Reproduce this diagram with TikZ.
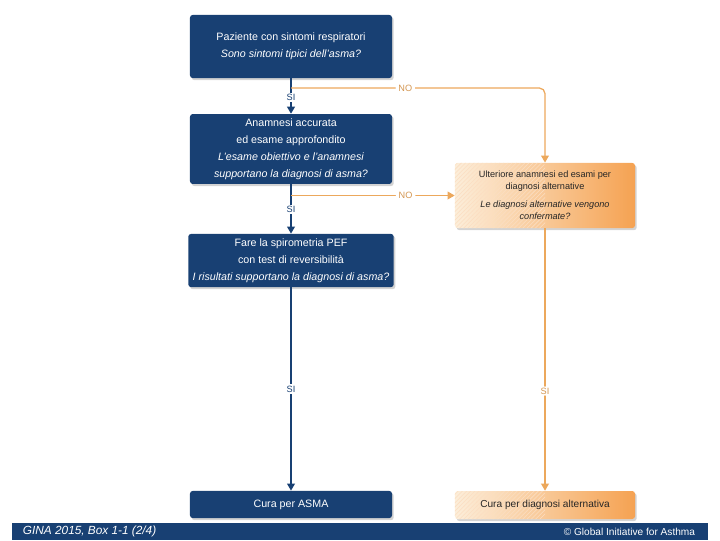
\documentclass[tikz,border=0pt]{standalone}
\usepackage{fontspec}
\setmainfont{Liberation Sans}
\usetikzlibrary{arrows.meta, positioning, shadows, patterns}
\definecolor{ginablue}{RGB}{24,64,115}
\definecolor{ginaorange}{RGB}{236,168,92}
\definecolor{lightorange}{RGB}{252,238,218}
\definecolor{deeporange}{RGB}{245,162,82}

\begin{document}
\begin{tikzpicture}[x=0.025cm, y=-0.025cm,
  qbox/.style={rectangle, rounded corners=2pt, fill=ginablue, text=white,
               minimum width=5.05cm, align=center,
               font=\fontsize{7.6}{12}\selectfont,
               drop shadow={shadow xshift=1.2pt, shadow yshift=-1.5pt, opacity=0.35}},
  abox/.style={rectangle, rounded corners=2pt,
               left color=lightorange, right color=deeporange,
               minimum width=4.5cm, align=center, text=black!85,
               font=\fontsize{6.5}{8.6}\selectfont,
               drop shadow={shadow xshift=1.2pt, shadow yshift=-1.5pt, opacity=0.35},
               path picture={\fill[pattern=north east lines, pattern color=deeporange!35]
                 (path picture bounding box.south west) rectangle (path picture bounding box.north);}},
  blarr/.style={draw=ginablue, line width=1.1pt, -{Triangle[width=5.5pt,length=5pt]}},
  orarr/.style={draw=ginaorange, line width=0.9pt, rounded corners=4pt,
                -{Triangle[width=5.5pt,length=5pt]}},
  bllab/.style={fill=white, text=ginablue, inner sep=1pt, font=\fontsize{6.5}{7}\selectfont},
  orlab/.style={fill=white, text=ginaorange!90!black, inner sep=2pt, font=\fontsize{6.5}{7}\selectfont},
  footbar/.style={rectangle, fill=ginablue, inner sep=0pt,
                  minimum width=17.4cm, minimum height=0.44cm}
]
  \useasboundingbox (0,0) rectangle (720,540);

  \node[qbox, minimum height=1.58cm] (q1) at (291,46.5)
    {Paziente con sintomi respiratori\\ \itshape Sono sintomi tipici dell'asma?};
  \node[qbox, minimum height=1.6cm] (q2) at (291,149)
    {Anamnesi accurata\\ ed esame approfondito\\
     \itshape L'esame obiettivo e l'anamnesi\\ \itshape supportano la diagnosi di asma?};
  \node[qbox, minimum height=1.33cm] (q3) at (291,260.5)
    {Fare la spirometria PEF\\ con test di reversibilità\\
     \makebox[4.9cm]{\itshape I risultati supportano la diagnosi di asma?}};
  \node[abox, minimum height=1.63cm] (alt) at (545,195.5)
    {Ulteriore anamnesi ed esami per\\ diagnosi alternative\\[4pt]
     \itshape Le diagnosi alternative vengono\\ \itshape confermate?};
  \node[qbox, minimum height=0.68cm] (cura) at (291,504.5) {Cura per ASMA};
  \node[abox, minimum height=0.7cm, font=\fontsize{7.2}{8.6}\selectfont] (curaalt)
    at (545,505) {Cura per diagnosi alternativa};

  \coordinate (n1) at (291,88);
  \coordinate (n2) at (291,195.5);

  \foreach \a/\b/\p in {q1/q2/0.54, q2/q3/0.51, q3/cura/0.5}
    \draw[blarr] (\a) -- node[bllab, pos=\p] {SI} (\b);

  \draw[orarr] (n1) -- node[orlab, pos=0.45] {NO} (n1 -| alt.north) -- (alt.north);
  \draw[orarr] (n2) -- node[orlab, pos=0.7] {NO} (alt.west);
  \draw[orarr] (alt) -- node[orlab, pos=0.62, inner sep=1pt] {SI} (curaalt);

  \node[footbar] (foot) at (360,531.5) {};
  \node[anchor=west, text=white, font=\fontsize{8.4}{10}\selectfont\itshape] (gina)
    at (18,531.5) {GINA 2015, Box 1-1 (2/4)};
  \node[anchor=east, text=white, font=\fontsize{7.2}{8}\selectfont] (copy)
    at (700,531.5) {© Global Initiative for Asthma};
\end{tikzpicture}
\end{document}
